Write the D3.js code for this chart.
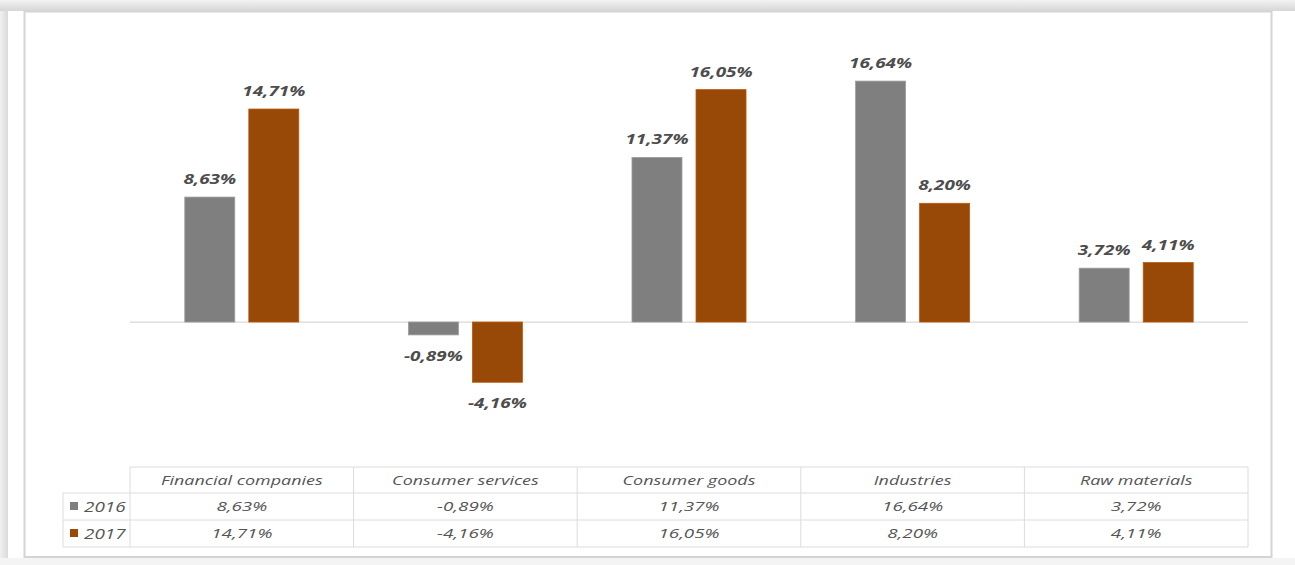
<!DOCTYPE html>
<html>
<head>
<meta charset="utf-8">
<script src="https://cdn.jsdelivr.net/npm/d3@7"></script>
<style>
  html, body { margin: 0; padding: 0; background: #ffffff; }
  svg { display: block; }
  text { font-family: "Open Sans", "DejaVu Sans", sans-serif; font-style: italic; }
</style>
</head>
<body>
<svg id="chart" width="1295" height="565"></svg>
<script>
// Sector returns by year (percent)
const categories = ["Financial companies", "Consumer services", "Consumer goods", "Industries", "Raw materials"];
const years = ["2016", "2017"];
const values2016 = [8.63, -0.89, 11.37, 16.64, 3.72];
const values2017 = [14.71, -4.16, 16.05, 8.20, 4.11];
const seriesColors = ["#7f7f7f", "#984807"];

const series = [
  { year: years[0], values: values2016, color: seriesColors[0] },
  { year: years[1], values: values2017, color: seriesColors[1] }
];

// Decimal comma formatting with a plain hyphen for negatives, e.g. -0,89%
const fmt = v => d3.format(".2f")(v).replace("\u2212", "-").replace(".", ",") + "%";

const svg = d3.select("#chart");

// ---- frame and surrounding shadow ----
const defs = svg.append("defs");
const gTop = defs.append("linearGradient").attr("id", "shadeTop").attr("x1", 0).attr("y1", 0).attr("x2", 0).attr("y2", 1);
gTop.append("stop").attr("offset", "0%").attr("stop-color", "#f3f3f3");
gTop.append("stop").attr("offset", "100%").attr("stop-color", "#d6d6d6");
const gLeft = defs.append("linearGradient").attr("id", "shadeLeft").attr("x1", 0).attr("y1", 0).attr("x2", 1).attr("y2", 0);
gLeft.append("stop").attr("offset", "0%").attr("stop-color", "#f0f0f0");
gLeft.append("stop").attr("offset", "100%").attr("stop-color", "#dadada");

svg.append("rect").attr("x", 0).attr("y", 0).attr("width", 1295).attr("height", 11).attr("fill", "url(#shadeTop)");
svg.append("rect").attr("x", 0).attr("y", 11).attr("width", 8).attr("height", 554).attr("fill", "url(#shadeLeft)");
svg.append("rect").attr("x", 0).attr("y", 558).attr("width", 1295).attr("height", 7).attr("fill", "#f4f4f4");

svg.append("rect")
  .attr("x", 24.5).attr("y", 11.5).attr("width", 1247).attr("height", 545.5)
  .attr("fill", "#ffffff").attr("stroke", "#d4d4d4").attr("stroke-width", 2);

// ---- scales ----
const plotLeft = 130, plotRight = 1248;
const x0 = d3.scaleBand().domain(categories).range([plotLeft, plotRight]).paddingInner(0.49).paddingOuter(0.245);
const x1 = d3.scaleBand().domain(years).range([0, x0.bandwidth()]).paddingInner(0.219);
const y = d3.scaleLinear().domain([-6, 18]).range([408.9, 61.4]);

// zero baseline
svg.append("line")
  .attr("x1", plotLeft).attr("x2", plotRight)
  .attr("y1", y(0)).attr("y2", y(0))
  .attr("stroke", "#d9d9d9").attr("stroke-width", 1.2);

// ---- bars ----
const bars = svg.append("g");
series.forEach(s => {
  bars.selectAll(null)
    .data(categories.map((c, i) => ({ c, v: s.values[i] })))
    .join("rect")
    .attr("x", d => x0(d.c) + x1(s.year))
    .attr("width", x1.bandwidth())
    .attr("y", d => y(Math.max(0, d.v)))
    .attr("height", d => Math.abs(y(d.v) - y(0)))
    .attr("fill", s.color)
    .attr("stroke", d3.color(s.color).brighter(0.6))
    .attr("stroke-width", 0.8);

  // data labels
  bars.selectAll(null)
    .data(categories.map((c, i) => ({ c, v: s.values[i] })))
    .join("text")
    .attr("transform", d => {
      const cx = x0(d.c) + x1(s.year) + x1.bandwidth() / 2;
      const by = d.v >= 0 ? y(d.v) - 13 : y(d.v) + 26;
      return `translate(${cx},${by}) scale(1.35,1)`;
    })
    .attr("text-anchor", "middle")
    .attr("font-size", 14)
    .attr("font-weight", 700)
    .attr("fill", "#4d4d4d")
    .text(d => fmt(d.v));
});

// ---- data table ----
const tTop = 467, rowH = [26, 27, 27];
const rowY = [tTop, tTop + rowH[0], tTop + rowH[0] + rowH[1], tTop + rowH[0] + rowH[1] + rowH[2]];
const legendLeft = 63;
const grid = svg.append("g").attr("stroke", "#dcdcdc").attr("stroke-width", 1);

// horizontal lines
grid.append("line").attr("x1", plotLeft).attr("x2", plotRight).attr("y1", rowY[0]).attr("y2", rowY[0]);
[1, 2, 3].forEach(r => {
  grid.append("line").attr("x1", legendLeft).attr("x2", plotRight).attr("y1", rowY[r]).attr("y2", rowY[r]);
});
// vertical lines
grid.append("line").attr("x1", legendLeft).attr("x2", legendLeft).attr("y1", rowY[1]).attr("y2", rowY[3]);
categories.forEach(c => {
  const xs = x0(c) - x0.step() * x0.paddingInner() / 2;
  grid.append("line").attr("x1", xs).attr("x2", xs).attr("y1", rowY[0]).attr("y2", rowY[3]);
});
grid.append("line").attr("x1", plotRight).attr("x2", plotRight).attr("y1", rowY[0]).attr("y2", rowY[3]);

const rowMid = r => (rowY[r] + rowY[r + 1]) / 2;

// header cells
svg.append("g").selectAll("text")
  .data(categories)
  .join("text")
  .attr("transform", c => `translate(${x0(c) + x0.bandwidth() / 2},${rowMid(0) + 4.5}) scale(1.38,1)`)
  .attr("text-anchor", "middle")
  .attr("font-size", 13)
  .attr("font-weight", 500)
  .attr("fill", "#555555")
  .text(c => c);

// value rows with legend keys
series.forEach((s, si) => {
  const r = si + 1;
  svg.append("rect")
    .attr("x", 70).attr("y", rowMid(r) - 4.5)
    .attr("width", 8).attr("height", 8)
    .attr("fill", s.color);
  svg.append("text")
    .attr("transform", `translate(84,${rowMid(r) + 5}) scale(1.35,1)`)
    .attr("font-size", 14)
    .attr("font-weight", 500)
    .attr("fill", "#555555")
    .text(s.year);
  svg.append("g").selectAll("text")
    .data(categories.map((c, i) => ({ c, v: s.values[i] })))
    .join("text")
    .attr("transform", d => `translate(${x0(d.c) + x0.bandwidth() / 2},${rowMid(r) + 4.5}) scale(1.45,1)`)
    .attr("text-anchor", "middle")
    .attr("font-size", 13)
    .attr("font-weight", 500)
    .attr("fill", "#555555")
    .text(d => fmt(d.v));
});
</script>
</body>
</html>
